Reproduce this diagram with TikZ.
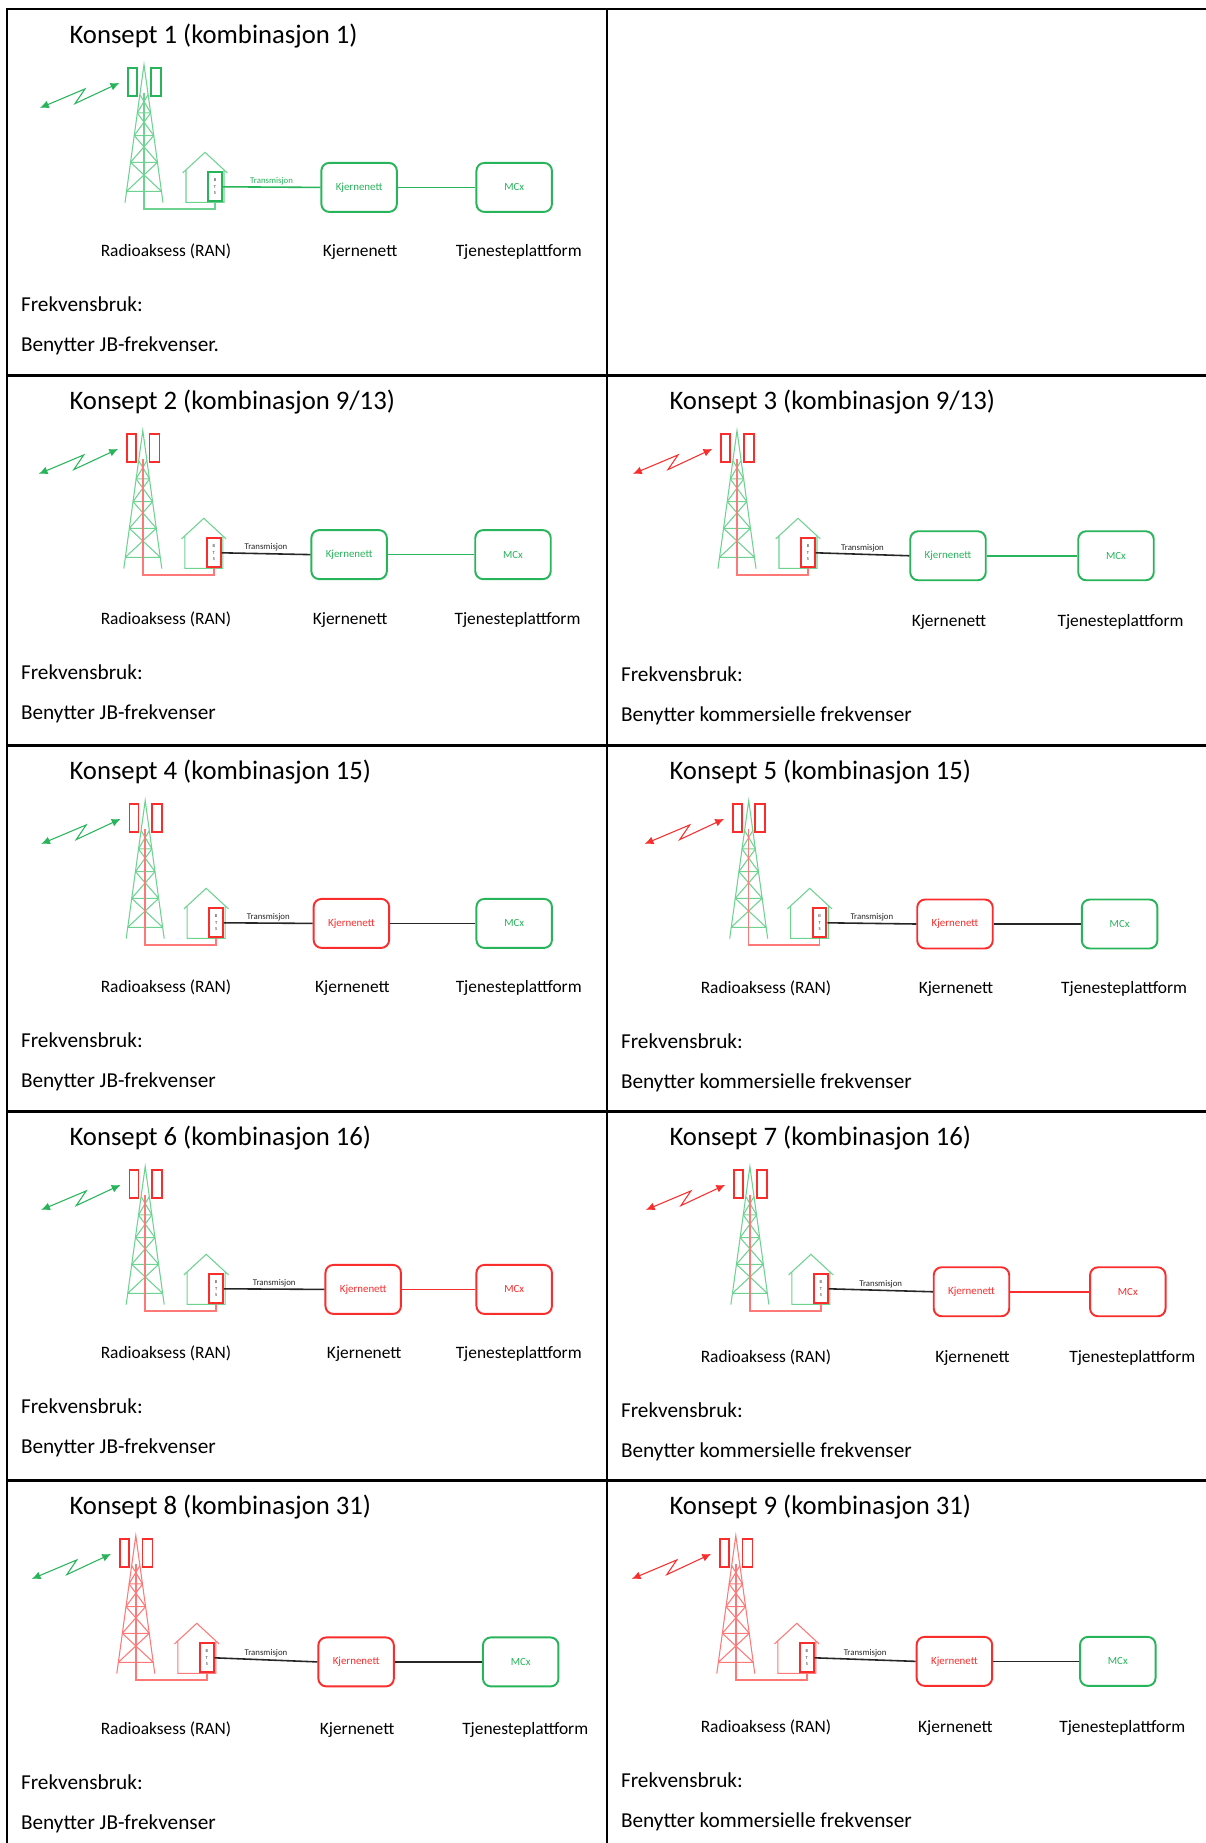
\documentclass[tikz,border=0pt]{standalone}
\usepackage{fontspec}
\setmainfont{Carlito}
\usetikzlibrary{arrows.meta}

\definecolor{jbgreen}{RGB}{40,180,90}
\definecolor{jbgreenl}{RGB}{110,210,145}
\definecolor{jbred}{RGB}{250,45,45}
\definecolor{jbredl}{RGB}{255,120,120}

% one cell of the table: #1 name prefix, #2 title, #3 frequency text,
% #4 vertical nudge, #5 shift of the radio part, #6/#7 x of the two boxes,
% #8 label under the radio part (may be empty)
\newcommand{\konsept}[8]{%
  \node[ttl] (#1title) at (62,34) {#2};
  \begin{scope}[shift={(#5,0)}]
    \draw[sig, sigarrow] (33,98.9) -- (78,79.9) -- (68,94.6) -- (112.3,73.9);
    % mast
    \draw[mast] (118,193.6) -- (137,55.6) -- (156,193.6);
    \foreach \ya/\wa/\yb/\wb in {85.6/4.1/103.9/6.7, 103.9/6.7/126.6/9.8,
        126.6/9.8/153.3/13.5, 153.3/13.5/182.3/17.5}
      \draw[mast] (137-\wa,\ya) -- (137+\wb,\yb) (137+\wa,\ya) -- (137-\wb,\yb)
        (137-\wb,\yb) -- (137+\wb,\yb);
    \draw[ant, line width=1.1pt] (121.3,58.9) rectangle (130.3,86.6)
      (143.7,58.9) rectangle (153.7,87.3);
    % house
    \draw[mast] (175.7,163.9) -- (198,143.3) -- (220.3,163.9)
      (179,160.9) |- (217,193.3) -- (217,160.9);
    \node[bts, ant, text=black!80] (#1bts) at (208,177.8) {B\\T\\S};
    \coordinate (#1feed) at (137,84);
  \end{scope}
  \node[box, kjb] (#1kj) at (#6,178.4+#4/2) {Kjernenett};
  \node[box, mcxb] (#1mcx) at (#7,178.4+#4/2) {MCx};
  \draw[feed, line width=0.8pt] (#1feed) -- ++(0,116) -| (#1bts.south);
  \draw[trans, line width=0.9pt] (#1bts.east) -- node[trl, above] {Transmisjon} (#1kj.west);
  \draw[link, line width=0.9pt] (#1kj) -- (#1mcx);
  \if\relax\detokenize{#8}\relax\else
    \node[lbl] (#1ranlbl) at (159,247+#4) {#8};\fi
  \node[lbl] (#1kjlbl) at (#6+1,247+#4) {Kjernenett};
  \node[lbl] (#1tjlbl) at (#7+4.5,247+#4) {Tjenesteplattform};
  \node[body] (#1frek) at (13.5,302+#4) {Frekvensbruk:};
  \node[body] (#1bruk) at (13.5,342+#4) {#3};
}

\begin{document}
\begin{tikzpicture}[
    x=0.02cm, y=-0.02cm,
    gn/.style={draw=jbgreen, text=jbgreen},
    gnl/.style={draw=jbgreenl},
    rd/.style={draw=jbred, text=jbred},
    rdl/.style={draw=jbredl},
    bk/.style={draw=black!85, text=black!85},
    % default colouring, changed per cell
    sig/.style={gn}, ant/.style={rd}, feed/.style={rdl}, mast/.style={gnl},
    trans/.style={bk}, kjb/.style={rd}, mcxb/.style={gn}, link/.style={bk},
    sigarrow/.style={line width=0.6pt, {Latex[length=5pt,width=4.5pt]}-{Latex[length=5pt,width=4.5pt]}},
    every path/.append style={line width=0.6pt},
    ttl/.style={font=\fontsize{15.2}{18}\selectfont, inner sep=0pt, anchor=base west},
    body/.style={font=\fontsize{12.1}{14}\selectfont, inner sep=0pt, anchor=base west},
    lbl/.style={font=\fontsize{9.9}{12}\selectfont, inner sep=0pt, anchor=base},
    box/.style={rectangle, rounded corners=4.5pt, line width=1.1pt, minimum width=1.51cm,
      minimum height=0.98cm, font=\fontsize{6.2}{7}\selectfont},
    bts/.style={rectangle, line width=1.1pt, minimum width=0.27cm, minimum height=0.58cm,
      inner sep=0pt, align=center, font=\fontsize{2.6}{3.6}\selectfont},
    trl/.style={font=\fontsize{5}{6}\selectfont, inner sep=1pt},
    grid/.style={line width=1.7pt, line cap=rect},
  ]
  \fill[white] (0,0) rectangle (1206,1843);
  \useasboundingbox (0,0) rectangle (1206,1843);

  % table rules
  \foreach \y in {9,375,745,1111,1480}
    \draw[grid] (7,\y) -- (1206,\y);
  \draw[grid] (7,9) -- (7,1843) (607,9) -- (607,1843);

  \begin{scope}[shift={(7,9)}, ant/.style={gn}, feed/.style={gnl}, trans/.style={gn},
      kjb/.style={gn}, link/.style={gn}]
    \konsept{a}{Konsept 1 (kombinasjon 1)}{Benytter JB-frekvenser.}{0}{0}{352.1}{507.2}{Radioaksess (RAN)}
  \end{scope}

  \begin{scope}[shift={(7,375)}, kjb/.style={gn}, link/.style={gn}]
    \konsept{b}{Konsept 2 (kombinasjon 9/13)}{Benytter JB-frekvenser}{2.4}{-1.2}{342.1}{506}{Radioaksess (RAN)}
  \end{scope}

  \begin{scope}[shift={(607,375)}, sig/.style={rd}, kjb/.style={gn}, link/.style={gn}]
    \konsept{c}{Konsept 3 (kombinasjon 9/13)}{Benytter kommersielle frekvenser}{4.7}{-7}{341}{509}{}
  \end{scope}

  \begin{scope}[shift={(7,745)}]
    \konsept{d}{Konsept 4 (kombinasjon 15)}{Benytter JB-frekvenser}{0}{1.2}{344.4}{507.2}{Radioaksess (RAN)}
  \end{scope}

  \begin{scope}[shift={(607,745)}, sig/.style={rd}]
    \konsept{e}{Konsept 5 (kombinasjon 15)}{Benytter kommersielle frekvenser}{1.2}{4.7}{348}{512.6}{Radioaksess (RAN)}
  \end{scope}

  \begin{scope}[shift={(7,1111)}, mcxb/.style={rd}, link/.style={rd}]
    \konsept{f}{Konsept 6 (kombinasjon 16)}{Benytter JB-frekvenser}{0}{1.2}{356.2}{507.2}{Radioaksess (RAN)}
  \end{scope}

  \begin{scope}[shift={(607,1111)}, sig/.style={rd}, mcxb/.style={rd}, link/.style={rd}]
    \konsept{g}{Konsept 7 (kombinasjon 16)}{Benytter kommersielle frekvenser}{4.7}{5.9}{364.5}{520.8}{Radioaksess (RAN)}
  \end{scope}

  \begin{scope}[shift={(7,1480)}, mast/.style={rdl}]
    \konsept{h}{Konsept 8 (kombinasjon 31)}{Benytter JB-frekvenser}{7}{-8.2}{349.1}{513.7}{Radioaksess (RAN)}
  \end{scope}

  \begin{scope}[shift={(607,1480)}, sig/.style={rd}, mast/.style={rdl}]
    \konsept{i}{Konsept 9 (kombinasjon 31)}{Benytter kommersielle frekvenser}{5.9}{-8.2}{347.4}{510.8}{Radioaksess (RAN)}
  \end{scope}
\end{tikzpicture}
\end{document}
